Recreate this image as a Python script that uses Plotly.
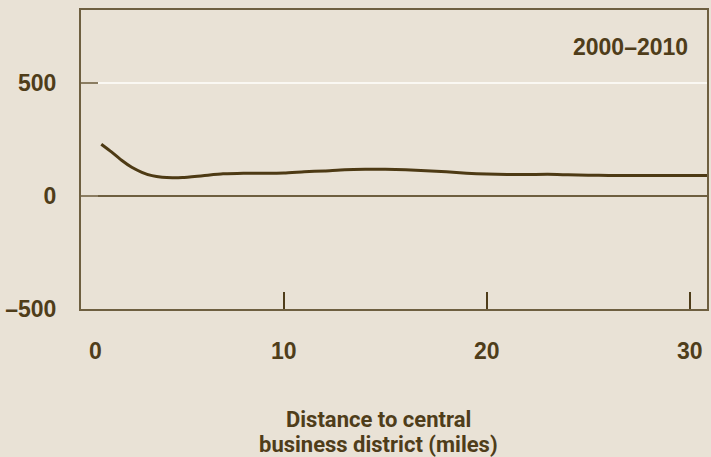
import plotly.graph_objects as go

# Data
distance = [1.0, 1.5, 2.0, 2.5, 3.0, 3.5, 4.0, 4.5, 5.0, 6.0, 7.0, 8.0, 9.0, 10.0,
            11.0, 12.0, 13.0, 14.0, 15.0, 16.0, 17.0, 18.0, 19.0, 20.0, 21.0,
            22.0, 23.0, 24.0, 25.0, 26.0, 28.0, 30.0, 31.0]
change = [229, 195, 158, 127, 105, 90, 83, 81, 82, 90, 98, 101, 101, 102,
          107, 111, 116, 118, 118, 116, 112, 107, 101, 97, 95,
          95, 96, 94, 92, 91, 91, 91, 91]
x_tick_vals = [0, 10, 20, 30]
x_tick_text = ["0", "10", "20", "30"]
y_tick_vals = [-500, 0, 500]
y_tick_text = ["–500", "0", "500"]
period_label = "2000–2010"
x_title_lines = ["Distance to central", "business district (miles)"]

BG = "#e9e2d6"
INK = "#4f3d1a"
FRAME = "#6e5f40"
TICKFONT = dict(family="Liberation Sans", size=23, color=INK)

fig = go.Figure()
fig.add_trace(go.Scatter(x=distance, y=change, mode="lines",
                         line=dict(color="#4d3a14", width=3, shape="spline", smoothing=0.6),
                         showlegend=False, hoverinfo="skip", cliponaxis=True))

fig.update_layout(
    width=711, height=457,
    margin=dict(l=81, r=2, t=10, b=148),
    paper_bgcolor=BG, plot_bgcolor=BG,
    font=TICKFONT,
)
fig.update_xaxes(
    range=[0, 30.85], showgrid=False, zeroline=False,
    showline=True, mirror=True, linecolor=FRAME, linewidth=2,
    tickvals=x_tick_vals[1:], ticks="inside", ticklen=17, tickwidth=1.5,
    tickcolor=INK, showticklabels=False,
)
fig.update_yaxes(
    range=[-500, 823], showgrid=True, gridcolor="#faf8f3", gridwidth=1.5,
    zeroline=True, zerolinecolor=FRAME, zerolinewidth=2,
    showline=True, mirror=True, linecolor=FRAME, linewidth=2,
    tickvals=y_tick_vals, ticktext=y_tick_text, ticks="inside", ticklen=17,
    tickwidth=1.5, tickcolor="#8b7d62",
    tickfont=dict(family="Liberation Sans", size=23, color=INK, weight="bold"),
    ticklabelstandoff=18,
)

# x tick labels
for v, t in zip(x_tick_vals, x_tick_text):
    fig.add_annotation(x=v, xref="x", y=0, yref="paper", text=f"<b>{t}</b>",
                       showarrow=False, xanchor="center", yanchor="middle",
                       yshift=-42, xshift=14 if v == 0 else 0,
                       font=TICKFONT)

# period label
fig.add_annotation(x=0.973, xref="paper", y=0.876, yref="paper",
                   text=f"<b>{period_label}</b>", showarrow=False,
                   xanchor="right", yanchor="middle", font=TICKFONT)

# x axis title (two lines)
for i, line in enumerate(x_title_lines):
    fig.add_annotation(x=0.4753, xref="paper", y=0, yref="paper",
                       text=f"<b>{line}</b>", showarrow=False,
                       xanchor="center", yanchor="middle", yshift=-110 - 25 * i,
                       font=dict(family="Roboto", size=22, color=INK))

fig.write_html("out.html",
               config={"displayModeBar": False},
               post_script="document.body.style.margin='0';document.body.style.overflow='hidden';")
